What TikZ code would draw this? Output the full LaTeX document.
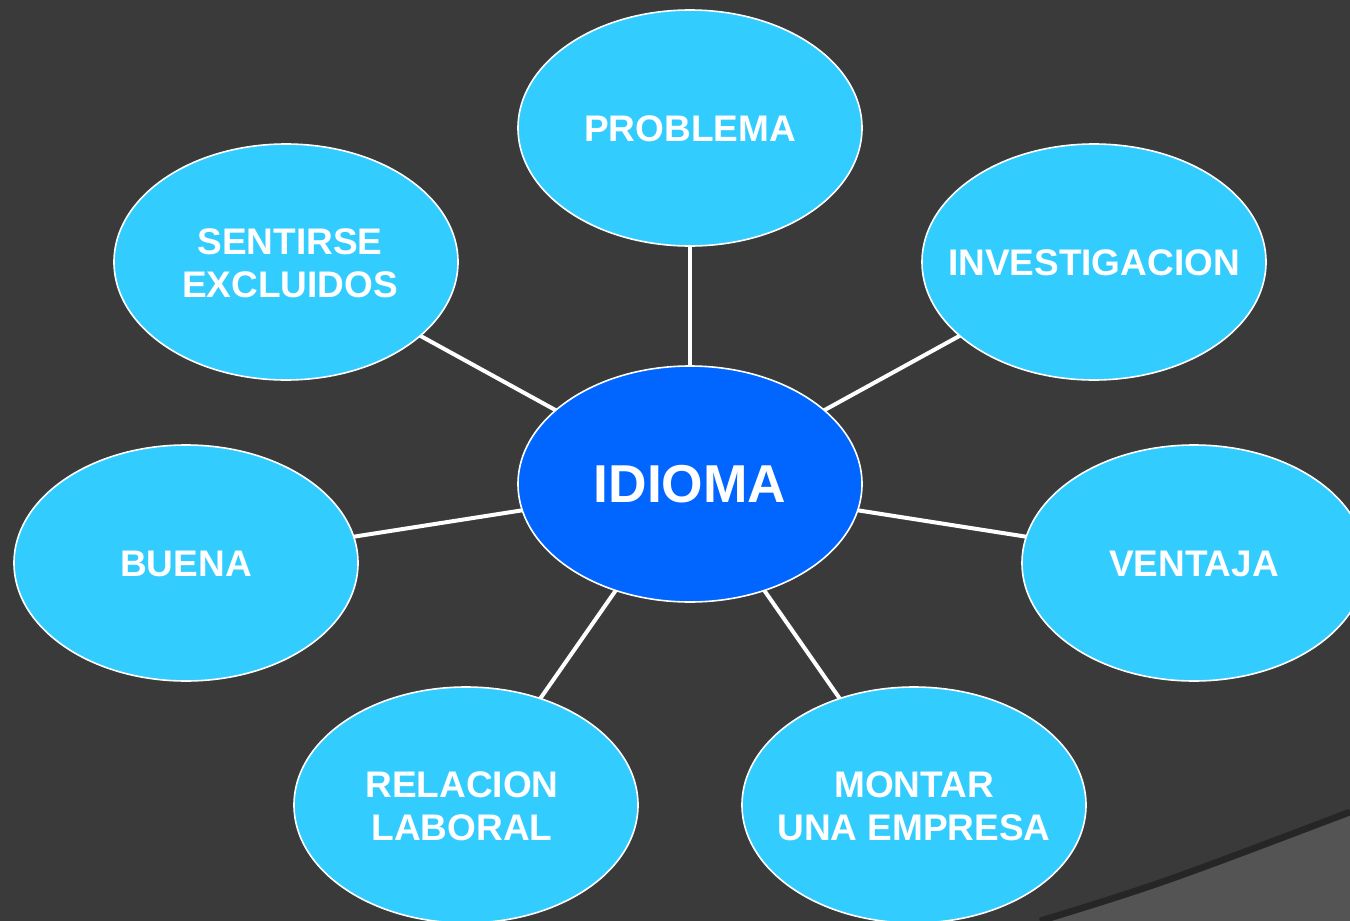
\documentclass[tikz,border=0pt]{standalone}
\usepackage{fontspec}
\setmainfont{Liberation Sans}
\usetikzlibrary{shapes.geometric}
\pgfdeclarelayer{bg}
\pgfsetlayers{bg,main}
\definecolor{bgdark}{HTML}{3A3A3A}
\definecolor{swoosh}{HTML}{545454}
\definecolor{swooshedge}{HTML}{262626}
\definecolor{bubble}{HTML}{33CCFF}
\definecolor{core}{HTML}{0066FF}
\tikzset{
  bubblebox/.style={ellipse, draw=white, line width=1.2pt, fill=bubble,
    minimum width=258pt, minimum height=177pt, inner sep=0pt},
  corebox/.style={bubblebox, fill=core},
  label/.style={text=white, font=\bfseries\fontsize{27.75}{32.25}\selectfont, align=center, inner sep=0pt},
  corelabel/.style={text=white, font=\bfseries\fontsize{40}{46}\selectfont, inner sep=0pt},
  link/.style={draw=white, line width=3pt}
}
\begin{document}
\begin{tikzpicture}[x=0.75pt,y=-0.75pt]
\useasboundingbox (0,0) rectangle (1350,921);
\begin{pgfonlayer}{bg}
  \fill[bgdark] (0,0) rectangle (1350,921);
  \fill[swoosh] (1040,921) .. controls (1160,884) .. (1350,812) -- (1350,921) -- cycle;
  \draw[swooshedge, line width=5pt] (1040,921) .. controls (1160,884) .. (1350,812);
\end{pgfonlayer}

\node[corebox] (idioma) at (690,484) {};
\node[bubblebox] (problema) at (690,128) {};
\node[bubblebox] (sentirse) at (286,262) {};
\node[bubblebox] (invest) at (1094,262) {};
\node[bubblebox] (buena) at (186,563) {};
\node[bubblebox] (ventaja) at (1194,563) {};
\node[bubblebox] (relacion) at (466,805) {};
\node[bubblebox] (montar) at (914,805) {};

\begin{pgfonlayer}{bg}
  \foreach \t in {problema,sentirse,invest,buena,ventaja,relacion,montar}
    \draw[link] (idioma.center) -- (\t.center);
\end{pgfonlayer}

\node[corelabel] (tidioma) at (690,484) {IDIOMA};
\node[label] (tproblema) at (690,129) {PROBLEMA};
\node[label] (tsentirse) at (290,263) {SENTIRSE\\EXCLUIDOS};
\node[label] (tinvest) at (1094,263) {INVESTIGACION};
\node[label] (tbuena) at (186,564) {BUENA};
\node[label] (tventaja) at (1194,564) {VENTAJA};
\node[label] (trelacion) at (462,806) {RELACION\\LABORAL};
\node[label] (tmontar) at (914,806) {MONTAR\\UNA EMPRESA};
\end{tikzpicture}
\end{document}
